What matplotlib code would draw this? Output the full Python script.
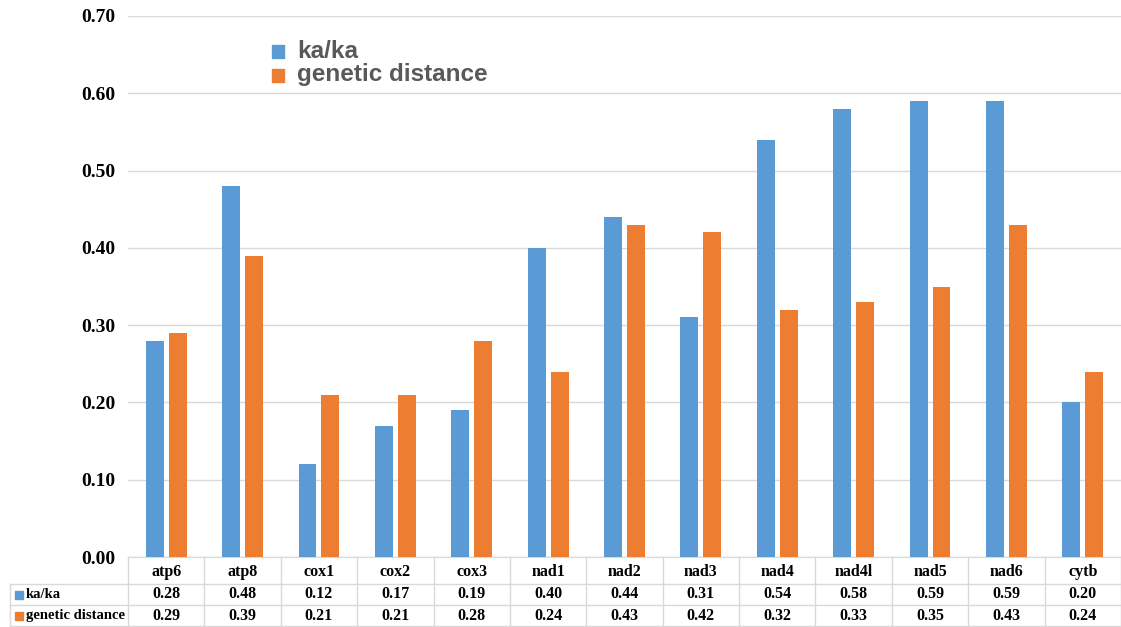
import matplotlib
matplotlib.use("Agg")
import matplotlib.pyplot as plt
from matplotlib.patches import Rectangle
from matplotlib.lines import Line2D
import numpy as np

genes = ["atp6", "atp8", "cox1", "cox2", "cox3", "nad1", "nad2",
         "nad3", "nad4", "nad4l", "nad5", "nad6", "cytb"]
ka_ka = [0.28, 0.48, 0.12, 0.17, 0.19, 0.40, 0.44, 0.31, 0.54, 0.58, 0.59, 0.59, 0.20]
genetic_distance = [0.29, 0.39, 0.21, 0.21, 0.28, 0.24, 0.43, 0.42, 0.32, 0.33, 0.35, 0.43, 0.24]
series_names = ["ka/ka", "genetic distance"]
yticks = [0.0, 0.1, 0.2, 0.3, 0.4, 0.5, 0.6, 0.7]

BLUE = "#5B9BD5"
ORANGE = "#ED7D31"
GRID = "#D9D9D9"
W, H = 1121, 627

fig = plt.figure(figsize=(W / 100, H / 100), dpi=100)
ax = fig.add_axes([128 / W, 70 / H, (W - 128) / W, (557 - 16) / H])

x = np.arange(len(genes))
bw = 0.235
off = 0.15
ax.bar(x - off, ka_ka, bw, color=BLUE, zorder=3)
ax.bar(x + off, genetic_distance, bw, color=ORANGE, zorder=3)

ax.set_xlim(-0.5, len(genes) - 0.5)
ax.set_ylim(0, 0.7)
ax.set_yticks(yticks)
ax.set_yticklabels([f"{v:.2f}" for v in yticks], fontfamily="Liberation Serif",
                   fontweight="bold", fontsize=14)
ax.tick_params(axis="y", length=0, pad=9)
ax.set_xticks([])
ax.yaxis.grid(True, color=GRID, linewidth=1)
ax.set_axisbelow(True)
for s in ["left", "right", "top"]:
    ax.spines[s].set_visible(False)
ax.spines["bottom"].set_color(GRID)

# legend
lx = 272
for i, (name, col, yy) in enumerate(zip(series_names, [BLUE, ORANGE], [51, 75])):
    fig.patches.append(Rectangle((lx / W, 1 - (yy + 7) / H), 12 / W, 13 / H,
                                 transform=fig.transFigure, color=col))
    fig.text((lx + 25) / W, 1 - yy / H, name, fontsize=17.5, color="#595959",
             family="Liberation Sans", fontweight="bold", va="center", ha="left")

# data table under the axis
row_y = [557, 584, 605, 627]  # pixel rows: header, ka/ka, genetic distance
def fy(p):
    return 1 - p / H

col_w = (W - 128) / len(genes)
# horizontal lines
fig.add_artist(Line2D([10 / W, 1], [fy(row_y[1]), fy(row_y[1])], color=GRID, lw=1))
fig.add_artist(Line2D([10 / W, 1], [fy(row_y[2]), fy(row_y[2])], color=GRID, lw=1))
fig.add_artist(Line2D([10 / W, 1], [fy(row_y[3]) + 0.001, fy(row_y[3]) + 0.001], color=GRID, lw=1))
# vertical lines
for k in range(len(genes) + 1):
    xp = (128 + k * col_w) / W
    fig.add_artist(Line2D([xp, xp], [fy(row_y[0]), 0], color=GRID, lw=1))
fig.add_artist(Line2D([10 / W, 10 / W], [fy(row_y[1]), 0], color=GRID, lw=1))

tfont = dict(family="Liberation Serif", fontweight="bold", fontsize=11.5,
             ha="center", va="center")
for k, g in enumerate(genes):
    cx = (128 + (k + 0.5) * col_w) / W
    fig.text(cx, fy((row_y[0] + row_y[1]) / 2 + 1), g, **tfont)
    fig.text(cx, fy((row_y[1] + row_y[2]) / 2), f"{ka_ka[k]:.2f}", **tfont)
    fig.text(cx, fy((row_y[2] + row_y[3]) / 2), f"{genetic_distance[k]:.2f}", **tfont)

for i, (name, col) in enumerate(zip(series_names, [BLUE, ORANGE])):
    yc = (row_y[1 + i] + row_y[2 + i]) / 2
    fig.patches.append(Rectangle((15 / W, fy(yc + 4)), 8 / W, 8 / H,
                                 transform=fig.transFigure, color=col))
    fig.text(26 / W, fy(yc), name, family="Liberation Serif", fontweight="bold",
             fontsize=10.5, ha="left", va="center")

fig.savefig("out.png", dpi=100)
